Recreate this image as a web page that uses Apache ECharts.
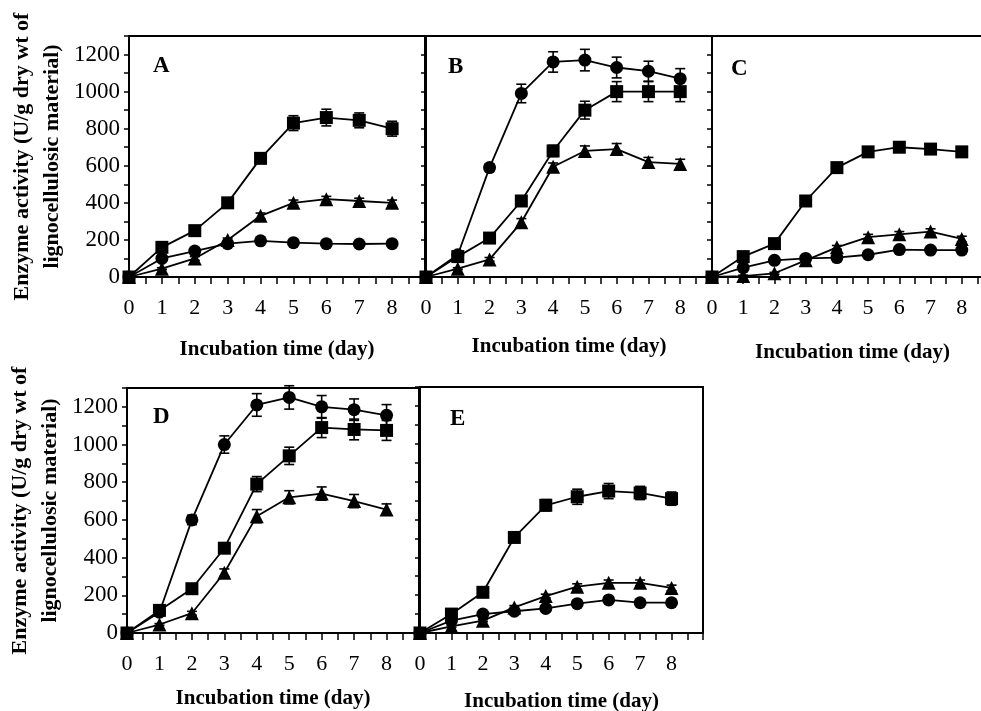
<!DOCTYPE html>
<html>
<head>
<meta charset="utf-8">
<script src="https://cdn.jsdelivr.net/npm/echarts@6/dist/echarts.min.js"></script>
<style>html,body{margin:0;padding:0;background:#fff}#c{width:981px;height:711px}</style>
</head>
<body>
<div id="c"></div>
<script>
// ---- data ----
const days = [0, 1, 2, 3, 4, 5, 6, 7, 8];
const xTickLabels = ['0', '1', '2', '3', '4', '5', '6', '7', '8'];
const yTickLabels = ['0', '200', '400', '600', '800', '1000', '1200'];
const panelNames = ['A', 'B', 'C', 'D', 'E'];

const A_square = [0, 160, 250, 400, 640, 830, 860, 845, 800];
const A_square_err = [0, 10, 10, 10, 15, 40, 45, 40, 40];
const A_triangle = [0, 45, 100, 200, 330, 400, 420, 410, 400];
const A_triangle_err = [0, 5, 10, 10, 15, 15, 15, 15, 15];
const A_circle = [0, 100, 140, 180, 195, 185, 180, 178, 180];
const A_circle_err = [0, 5, 10, 10, 10, 10, 10, 10, 10];

const B_circle = [0, 120, 590, 990, 1160, 1170, 1130, 1110, 1070];
const B_circle_err = [0, 10, 20, 50, 55, 58, 56, 54, 54];
const B_square = [0, 110, 210, 410, 680, 900, 1000, 1000, 1000];
const B_square_err = [0, 10, 10, 15, 30, 48, 54, 54, 54];
const B_triangle = [0, 45, 95, 295, 595, 680, 690, 620, 610];
const B_triangle_err = [0, 5, 10, 20, 20, 27, 30, 25, 25];

const C_square = [0, 110, 180, 410, 590, 675, 700, 690, 675];
const C_square_err = [0, 10, 10, 15, 20, 25, 25, 25, 25];
const C_triangle = [0, 5, 20, 90, 160, 215, 230, 245, 205];
const C_triangle_err = [0, 5, 5, 10, 10, 15, 15, 15, 15];
const C_circle = [0, 50, 90, 100, 105, 120, 148, 145, 145];
const C_circle_err = [0, 5, 5, 5, 10, 10, 10, 10, 10];

const D_circle = [0, 110, 600, 1000, 1210, 1250, 1200, 1185, 1155];
const D_circle_err = [0, 10, 25, 46, 60, 62, 60, 57, 57];
const D_square = [0, 120, 235, 450, 790, 940, 1090, 1080, 1075];
const D_square_err = [0, 10, 10, 15, 40, 46, 53, 55, 53];
const D_triangle = [0, 45, 105, 320, 620, 720, 740, 700, 655];
const D_triangle_err = [0, 5, 10, 20, 35, 35, 35, 35, 30];

const E_square = [0, 100, 215, 505, 675, 720, 750, 740, 710];
const E_square_err = [0, 10, 10, 15, 30, 40, 40, 35, 35];
const E_triangle = [0, 35, 65, 135, 195, 245, 265, 265, 238];
const E_triangle_err = [0, 5, 5, 10, 10, 15, 15, 15, 15];
const E_circle = [0, 65, 100, 115, 130, 155, 175, 160, 160];
const E_circle_err = [0, 5, 10, 10, 10, 10, 10, 10, 10];

const xTitle = 'Incubation time (day)';
const yTitle = 'Enzyme activity (U/g dry wt of\nlignocellulosic material)';

// ---- layout ----
const SERIF = 'Liberation Serif';
const grids = [
  {left: 129, top: 36, width: 296, height: 241},
  {left: 426, top: 36, width: 286, height: 241},
  {left: 712, top: 36, width: 281, height: 241},
  {left: 127, top: 388, width: 292, height: 245},
  {left: 420, top: 387, width: 283, height: 246}
];
const xNameGaps = [62, 59, 65, 55, 58];
const letterPos = [[148, 50], [443, 51], [726, 53], [148, 401], [445, 403]];

const panels = [
  [['rect', A_square, A_square_err], ['triangle', A_triangle, A_triangle_err], ['circle', A_circle, A_circle_err]],
  [['circle', B_circle, B_circle_err], ['rect', B_square, B_square_err], ['triangle', B_triangle, B_triangle_err]],
  [['rect', C_square, C_square_err], ['triangle', C_triangle, C_triangle_err], ['circle', C_circle, C_circle_err]],
  [['circle', D_circle, D_circle_err], ['rect', D_square, D_square_err], ['triangle', D_triangle, D_triangle_err]],
  [['rect', E_square, E_square_err], ['triangle', E_triangle, E_triangle_err], ['circle', E_circle, E_circle_err]]
];

const xAxes = [], yAxes = [], series = [], titles = [];
grids.forEach((g, i) => {
  xAxes.push({
    gridIndex: i, type: 'value', min: 0, max: 9, interval: 0.5,
    axisLine: {show: true, lineStyle: {color: '#000', width: 2}},
    axisTick: {show: true, inside: false, length: 7, lineStyle: {color: '#000', width: 1.5}},
    splitLine: {show: false},
    axisLabel: {
      show: true, margin: 20, color: '#000', fontFamily: SERIF, fontSize: 22,
      formatter: v => (Number.isInteger(v) && v <= 8) ? xTickLabels[v] : ''
    },
    name: xTitle, nameLocation: 'middle', nameGap: xNameGaps[i],
    nameTextStyle: {color: '#000', fontFamily: SERIF, fontWeight: 'bold', fontSize: 21}
  });
  const showY = (i === 0 || i === 3);
  yAxes.push({
    gridIndex: i, type: 'value', min: 0, max: 1300, interval: 100,
    axisLine: {show: true, lineStyle: {color: '#000', width: 2}},
    axisTick: {show: true, inside: false, length: 5, lineStyle: {color: '#000', width: 1.5}},
    splitLine: {show: false},
    axisLabel: {
      show: showY, margin: 9, color: '#000', fontFamily: SERIF, fontSize: 23,
      formatter: v => (v % 200 === 0 && v <= 1200) ? yTickLabels[v / 200] : ''
    },
    name: showY ? yTitle : '', nameLocation: 'middle', nameGap: 62, nameRotate: 90,
    nameTextStyle: {color: '#000', fontFamily: SERIF, fontWeight: 'bold', fontSize: 22, lineHeight: 30}
  });
  titles.push({
    text: panelNames[i], left: letterPos[i][0], top: letterPos[i][1],
    textStyle: {color: '#000', fontFamily: SERIF, fontWeight: 'bold', fontSize: 23}
  });
  panels[i].forEach(([sym, vals, errs]) => {
    series.push({
      type: 'custom', xAxisIndex: i, yAxisIndex: i, clip: false, z: 2,
      data: days.map((d, k) => [d, vals[k] - errs[k], vals[k] + errs[k]]),
      encode: {x: 0, y: [1, 2]},
      renderItem: (params, api) => {
        const lo = api.coord([api.value(0), api.value(1)]);
        const hi = api.coord([api.value(0), api.value(2)]);
        const hw = 5;
        const st = {stroke: '#000', lineWidth: 1.6};
        return {type: 'group', children: [
          {type: 'line', shape: {x1: lo[0], y1: lo[1], x2: hi[0], y2: hi[1]}, style: st},
          {type: 'line', shape: {x1: lo[0] - hw, y1: lo[1], x2: lo[0] + hw, y2: lo[1]}, style: st},
          {type: 'line', shape: {x1: hi[0] - hw, y1: hi[1], x2: hi[0] + hw, y2: hi[1]}, style: st}
        ]};
      }
    });
    series.push({
      type: 'line', xAxisIndex: i, yAxisIndex: i, clip: false, z: 3,
      data: days.map((d, k) => [d, vals[k]]),
      symbol: sym, symbolSize: sym === 'triangle' ? 14 : 13,
      showAllSymbol: true,
      lineStyle: {color: '#000', width: 1.8},
      itemStyle: {color: '#000'},
      emphasis: {disabled: true}
    });
  });
});

const chart = echarts.init(document.getElementById('c'), null, {renderer: 'canvas'});
chart.setOption({
  backgroundColor: '#fff',
  animation: false,
  title: titles,
  grid: grids.map(g => Object.assign({show: true, borderColor: '#000', borderWidth: 2, backgroundColor: 'transparent', containLabel: false, outerBoundsMode: 'none'}, g)),
  xAxis: xAxes,
  yAxis: yAxes,
  series: series
});
</script>
</body>
</html>
